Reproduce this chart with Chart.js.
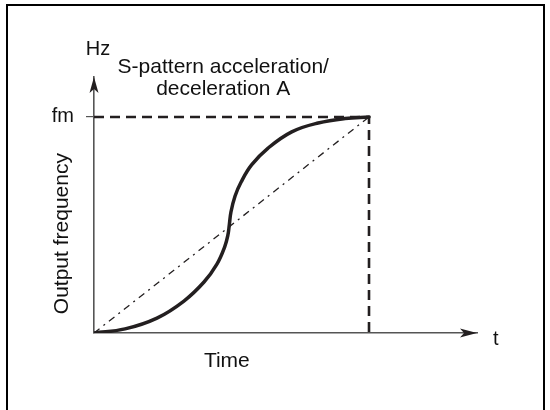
<!DOCTYPE html>
<html>
<head>
<meta charset="utf-8">
<script src="https://cdn.jsdelivr.net/npm/chart.js@4/dist/chart.umd.min.js"></script>
<style>
    html, body { margin: 0; padding: 0; background: #fff; }
    canvas { display: block; }
</style>
</head>
<body>
<canvas id="sCurve" width="550" height="410"></canvas>
<script>
// Time axis runs 0..1 up to the end of accel, frequency 0..1 up to fm
const FM = 1;
const T_END = 1;

// S-pattern curve (time, output frequency)
const sTime = [0, 0.113, 0.229, 0.327, 0.4, 0.447, 0.475, 0.487, 0.492, 0.498, 0.513, 0.535, 0.573, 0.633, 0.719, 0.815, 0.913, 1];
const sFreq = [0, 0.019, 0.069, 0.148, 0.236, 0.319, 0.398, 0.454, 0.5, 0.56, 0.634, 0.699, 0.778, 0.856, 0.931, 0.972, 0.993, 1];

// linear ramp for comparison
const linearTime = [0, T_END];
const linearFreq = [0, FM];

// guide lines to fm and end time
const guideTime = [0, T_END, T_END];
const guideFreq = [FM, FM, 0];

const yTickLabels = ['fm'];
const titleLines = ['S-pattern acceleration/', 'deceleration A'];

const INK = '#231f20';
const AXIS = '#555';
const FONT = '"Liberation Sans", Arial, sans-serif';

const toPoints = (xs, ys) => xs.map((x, i) => ({ x: x, y: ys[i] }));

/**
 * Draws axis arrowheads, free labels and the frame around the figure.
 */
const decorations = {
    id: 'decorations',
    afterDraw(chart) {
        const { ctx, chartArea } = chart;
        const { left, right, top, bottom } = chartArea;

        ctx.save();

        // arrowheads
        ctx.fillStyle = INK;
        ctx.beginPath();
        ctx.moveTo(right, bottom);
        ctx.lineTo(right - 17, bottom - 4.5);
        ctx.lineTo(right - 13, bottom);
        ctx.lineTo(right - 17, bottom + 4.5);
        ctx.closePath();
        ctx.fill();

        ctx.beginPath();
        ctx.moveTo(left, top);
        ctx.lineTo(left - 4.5, top + 16);
        ctx.lineTo(left, top + 12);
        ctx.lineTo(left + 4.5, top + 16);
        ctx.closePath();
        ctx.fill();

        // labels
        ctx.fillStyle = '#111';
        ctx.font = '20px ' + FONT;
        ctx.textBaseline = 'alphabetic';
        ctx.textAlign = 'center';
        ctx.fillText('Hz', left + 4, top - 22);

        ctx.font = '21px ' + FONT;
        const xs = chart.scales.x;
        const cx = xs.getPixelForValue(0.47);
        ctx.fillText(titleLines[0], cx, top - 4);
        ctx.fillText(titleLines[1], cx, top + 18);

        ctx.fillText('Time', xs.getPixelForValue(0.483), bottom + 34);

        ctx.textAlign = 'left';
        ctx.font = '20px ' + FONT;
        ctx.fillText('t', right + 16, bottom + 12);

        ctx.save();
        ctx.translate(left - 26, chart.scales.y.getPixelForValue(0.46));
        ctx.rotate(-Math.PI / 2);
        ctx.textAlign = 'center';
        ctx.font = '21px ' + FONT;
        ctx.fillText('Output frequency', 0, 0);
        ctx.restore();

        // frame (open at the bottom)
        ctx.strokeStyle = '#000';
        ctx.lineWidth = 2;
        ctx.beginPath();
        ctx.moveTo(7, chart.height);
        ctx.lineTo(7, 5);
        ctx.lineTo(544, 5);
        ctx.lineTo(544, chart.height);
        ctx.stroke();

        ctx.restore();
    }
};

new Chart(document.getElementById('sCurve'), {
    type: 'line',
    data: {
        datasets: [
            {
                label: 'linear',
                data: toPoints(linearTime, linearFreq),
                borderColor: INK,
                borderWidth: 1.3,
                borderDash: [7, 5, 2, 5],
                tension: 0,
                pointRadius: 0
            },
            {
                label: 'guide',
                data: toPoints(guideTime, guideFreq),
                borderColor: INK,
                borderWidth: 2.6,
                borderDash: [10, 6],
                tension: 0,
                pointRadius: 0
            },
            {
                label: 'S-pattern',
                data: toPoints(sTime, sFreq),
                tension: 0.4,
                borderColor: INK,
                borderWidth: 3.5,
                borderCapStyle: 'round',
                borderJoinStyle: 'round',
                pointRadius: 0
            }
        ]
    },
    options: {
        responsive: false,
        animation: false,
        events: [],
        layout: { padding: { left: 0, right: 73, top: 77, bottom: 0 } },
        plugins: {
            legend: { display: false },
            tooltip: { enabled: false }
        },
        scales: {
            x: {
                type: 'linear',
                min: 0,
                max: 1.3927,
                ticks: { display: false },
                grid: { display: false, drawTicks: false },
                border: { display: true, color: AXIS, width: 1.6 },
                afterFit(scale) { scale.height = 77; }
            },
            y: {
                type: 'linear',
                min: 0,
                max: 1.185,
                afterBuildTicks(scale) {
                    scale.ticks = [{ value: FM }];
                },
                ticks: {
                    padding: 12,
                    color: '#111',
                    font: { family: FONT, size: 20 },
                    callback: () => yTickLabels[0]
                },
                grid: {
                    drawOnChartArea: false,
                    drawTicks: true,
                    tickLength: 8,
                    color: AXIS,
                    lineWidth: 1.2
                },
                border: { display: true, color: AXIS, width: 1.6 },
                afterFit(scale) { scale.width = 94; }
            }
        }
    },
    plugins: [decorations]
});
</script>
</body>
</html>
